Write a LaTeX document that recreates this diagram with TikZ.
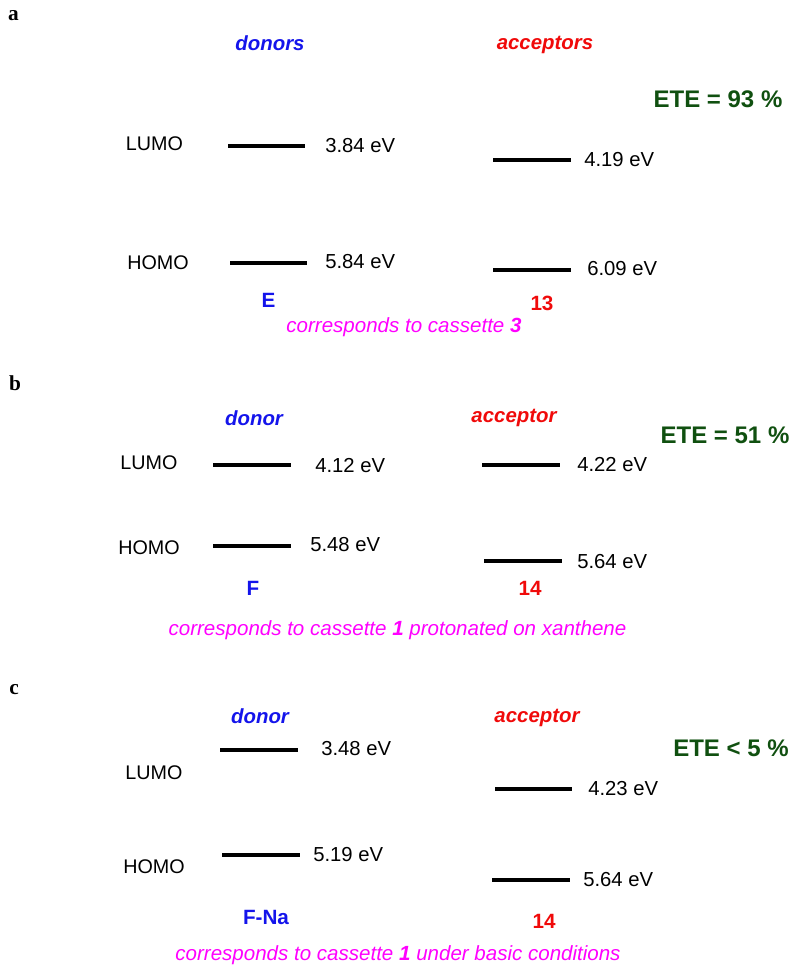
\documentclass[tikz,border=0pt]{standalone}
\usepackage{fontspec}
\setmainfont{Liberation Sans}
\newfontfamily\serifbold{Liberation Serif}
\definecolor{etegreen}{RGB}{16,80,16}
\definecolor{mag}{RGB}{255,0,255}
\definecolor{dblue}{RGB}{20,20,235}
\definecolor{dred}{RGB}{240,10,10}
\begin{document}
\begin{tikzpicture}[x=0.75pt,y=-0.75pt,
  lbl/.style={inner sep=0pt,font=\fontsize{14.8}{17}\selectfont},
  val/.style={inner sep=0pt,anchor=west,font=\fontsize{15.2}{17}\selectfont},
  dtitle/.style={inner sep=0pt,text=dblue,font=\fontsize{15.3}{18}\selectfont\bfseries\itshape},
  atitle/.style={inner sep=0pt,text=dred,font=\fontsize{15.3}{18}\selectfont\bfseries\itshape},
  dname/.style={inner sep=0pt,text=dblue,font=\fontsize{15.5}{18}\selectfont\bfseries},
  aname/.style={inner sep=0pt,text=dred,font=\fontsize{15.5}{18}\selectfont\bfseries},
  ete/.style={inner sep=0pt,text=etegreen,font=\fontsize{18}{21}\selectfont\bfseries},
  note/.style={inner sep=0pt,text=mag,font=\fontsize{15.4}{18}\selectfont\itshape},
  panel/.style={inner sep=0pt,font=\fontsize{16}{18}\selectfont\serifbold\bfseries},
  level/.style={line width=3pt}]
\useasboundingbox (0,0) rectangle (800,976);
% ---------- panel a
\node[panel] (pa) at (13.5,16) {a};
\node[dtitle] (adon) at (270,43) {donors};
\node[atitle] (aacc) at (545,45) {acceptors};
\node[ete] (aete) at (718,99) {ETE = 93 \%};
\node[lbl] (alumo) at (154.5,144) {LUMO};
\node[lbl] (ahomo) at (158,263) {HOMO};
\draw[level] (228,146) -- (305,146);
\node[val] (adl) at (325,146) {3.84 eV};
\draw[level] (493,160) -- (571,160);
\node[val] (aal) at (584,160) {4.19 eV};
\draw[level] (230,263) -- (307,263);
\node[val] (adh) at (325,262) {5.84 eV};
\draw[level] (493,270) -- (571,270);
\node[val] (aah) at (587,269) {6.09 eV};
\node[dname] (aE) at (268.5,300) {E};
\node[aname] (a13) at (542,303) {13};
\node[note] (anote) at (404,327) {corresponds to cassette \textbf{3}};
% ---------- panel b
\node[panel] (pb) at (15,383) {b};
\node[dtitle] (bdon) at (254,418) {donor};
\node[atitle] (bacc) at (514,418) {acceptor};
\node[ete] (bete) at (725,435) {ETE = 51 \%};
\node[lbl] (blumo) at (149,463) {LUMO};
\node[lbl] (bhomo) at (149,548) {HOMO};
\draw[level] (213,465) -- (291,465);
\node[val] (bdl) at (315,466) {4.12 eV};
\draw[level] (482,465) -- (560,465);
\node[val] (bal) at (577,465) {4.22 eV};
\draw[level] (213,546) -- (291,546);
\node[val] (bdh) at (310,545) {5.48 eV};
\draw[level] (484,561) -- (562,561);
\node[val] (bah) at (577,562) {5.64 eV};
\node[dname] (bF) at (253,588) {F};
\node[aname] (b14) at (530,588) {14};
\node[note] (bnote) at (397.5,630) {corresponds to cassette \textbf{1} protonated on xanthene};
% ---------- panel c
\node[panel] (pc) at (14,690) {c};
\node[dtitle] (cdon) at (260,716) {donor};
\node[atitle] (cacc) at (537,718) {acceptor};
\node[ete] (cete) at (731,748) {ETE < 5 \%};
\node[lbl] (clumo) at (154,773) {LUMO};
\node[lbl] (chomo) at (154,867) {HOMO};
\draw[level] (220,750) -- (298,750);
\node[val] (cdl) at (321,749) {3.48 eV};
\draw[level] (495,789) -- (572,789);
\node[val] (cal) at (588,789) {4.23 eV};
\draw[level] (222,855) -- (300,855);
\node[val] (cdh) at (313,855) {5.19 eV};
\draw[level] (492,880) -- (570,880);
\node[val] (cah) at (583,880) {5.64 eV};
\node[dname] (cF) at (266,917) {F-Na};
\node[aname] (c14) at (544,921) {14};
\node[note] (cnote) at (398,955) {corresponds to cassette \textbf{1} under basic conditions};
\end{tikzpicture}
\end{document}
